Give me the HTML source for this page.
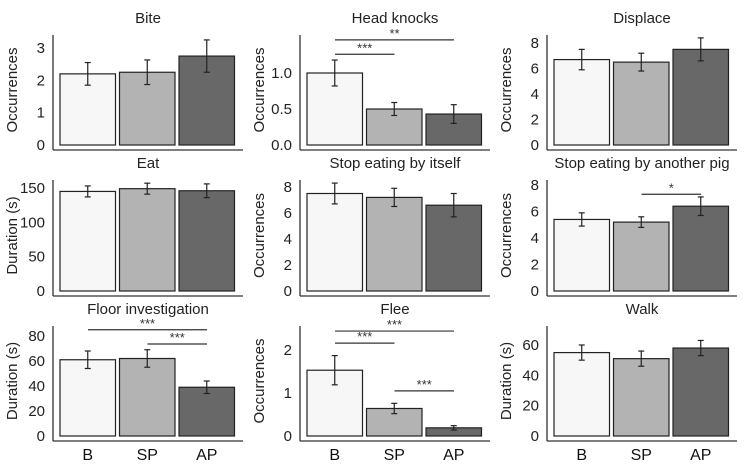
<!DOCTYPE html>
<html><head><meta charset="utf-8"><style>
body{margin:0;background:#fff;width:744px;height:467px;overflow:hidden}
svg{display:block;font-family:"Liberation Sans",Arial,sans-serif}
</style></head><body>
<svg id="c" width="744" height="467"></svg>
<script>
const groups=["B","SP","AP"];
const titles=["Bite","Head knocks","Displace","Eat","Stop eating by itself","Stop eating by another pig","Floor investigation","Flee","Walk"];
const ylabels=["Occurrences","Occurrences","Occurrences","Duration (s)","Occurrences","Occurrences","Duration (s)","Occurrences","Duration (s)"];
const means=[[2.2,2.25,2.75],[1.0,0.5,0.43],[6.7,6.5,7.5],[145,149,146],[7.5,7.2,6.6],[5.4,5.2,6.4],[61,62,39],[1.53,0.64,0.19],[55,51,58]];
const errs=[[0.35,0.38,0.5],[0.18,0.09,0.13],[0.8,0.7,0.9],[8,8,10],[0.8,0.7,0.9],[0.5,0.4,0.7],[7,7,5],[0.34,0.12,0.05],[5,5,5]];
const ticks=[[0,1,2,3],[0,0.5,1.0],[0,2,4,6,8],[0,50,100,150],[0,2,4,6,8],[0,2,4,6,8],[0,20,40,60,80],[0,1,2],[0,20,40,60]];
const tickLabels=[["0","1","2","3"],["0.0","0.5","1.0"],["0","2","4","6","8"],["0","50","100","150"],["0","2","4","6","8"],["0","2","4","6","8"],["0","20","40","60","80"],["0","1","2"],["0","20","40","60"]];
const sigs=[[],[["0","1","***"],["0","2","**"]],[],[],[],[["1","2","*"]],[["0","2","***"],["1","2","***"]],[["0","1","***"],["0","2","***"],["1","2","***"]],[]];
const sigVals=[[],[1.26,1.46],[],[],[],[7.3],[85,73.6],[2.16,2.44,1.05],[]];
const colX=[53,300,547],rowBase=[145,291,436],rowTop=[35,180,326];
const topPix=[48,73,43, 188,187,185, 336,350,345];
const fills=["#f7f7f7","#b3b3b3","#686868"];
const S=document.getElementById('c'),NS="http://www.w3.org/2000/svg";
function mk(t,a,p){const e=document.createElementNS(NS,t);for(const k in a)e.setAttribute(k,a[k]);(p||S).appendChild(e);return e;}
for(let i=0;i<9;i++){
 const c=i%3,r=Math.floor(i/3),ax=colX[c],b=rowBase[r];
 const tmax=ticks[i][ticks[i].length-1];
 const y=v=>b-(b-topPix[i])*v/tmax;
 const xb=j=>ax+7+j*59.5;
 const g=mk('g',{});
 
 
 const t=mk('text',{x:ax+95,y:rowTop[r]-12,'text-anchor':'middle','font-size':15,fill:'#222'},g);t.textContent=titles[i];
 
 mk('line',{x1:ax,y1:rowTop[r],x2:ax,y2:b+5,stroke:'#333','stroke-width':1.3},g);
 mk('line',{x1:ax,y1:b+5,x2:ax+190,y2:b+5,stroke:'#333','stroke-width':1.3},g);
 ticks[i].forEach((v,k)=>{const tl=mk('text',{x:ax-8,y:y(v)+5,'text-anchor':'end','font-size':15,fill:'#222'},g);tl.textContent=tickLabels[i][k];
  });
 const yl=mk('text',{transform:`translate(${ax-36},${(rowTop[r]+b)/2}) rotate(-90)`,'text-anchor':'middle','font-size':15,fill:'#222'},g);yl.textContent=ylabels[i];
 
 for(let j=0;j<3;j++){
  const x0=xb(j),w=55.5,v=means[i][j],e=errs[i][j],cx=x0+w/2;
  const rc=mk('rect',{x:x0,y:y(v),width:w,height:b-y(v),fill:fills[j],stroke:'#222','stroke-width':1.2},g);
  
  mk('line',{x1:cx,y1:y(v-e),x2:cx,y2:y(v+e),stroke:'#222','stroke-width':1.2},g);
  mk('line',{x1:cx-3,y1:y(v-e),x2:cx+3,y2:y(v-e),stroke:'#222','stroke-width':1.2},g);
  mk('line',{x1:cx-3,y1:y(v+e),x2:cx+3,y2:y(v+e),stroke:'#222','stroke-width':1.2},g);
  if(r==2){const xl=mk('text',{x:cx,y:460,'text-anchor':'middle','font-size':16,fill:'#111'},g);xl.textContent=groups[j];
   }
 }
 sigs[i].forEach((s,k)=>{const a=+s[0],bb=+s[1],yy=y(sigVals[i][k]);
  const x1=xb(a)+28,x2=xb(bb)+28;
  mk('line',{x1:x1,y1:yy,x2:x2,y2:yy,stroke:'#333','stroke-width':1.2},g);
  const st=mk('text',{x:(x1+x2)/2,y:yy-2,'text-anchor':'middle','font-size':13,fill:'#333'},g);st.textContent=s[2];
  });
}
</script></body></html>
